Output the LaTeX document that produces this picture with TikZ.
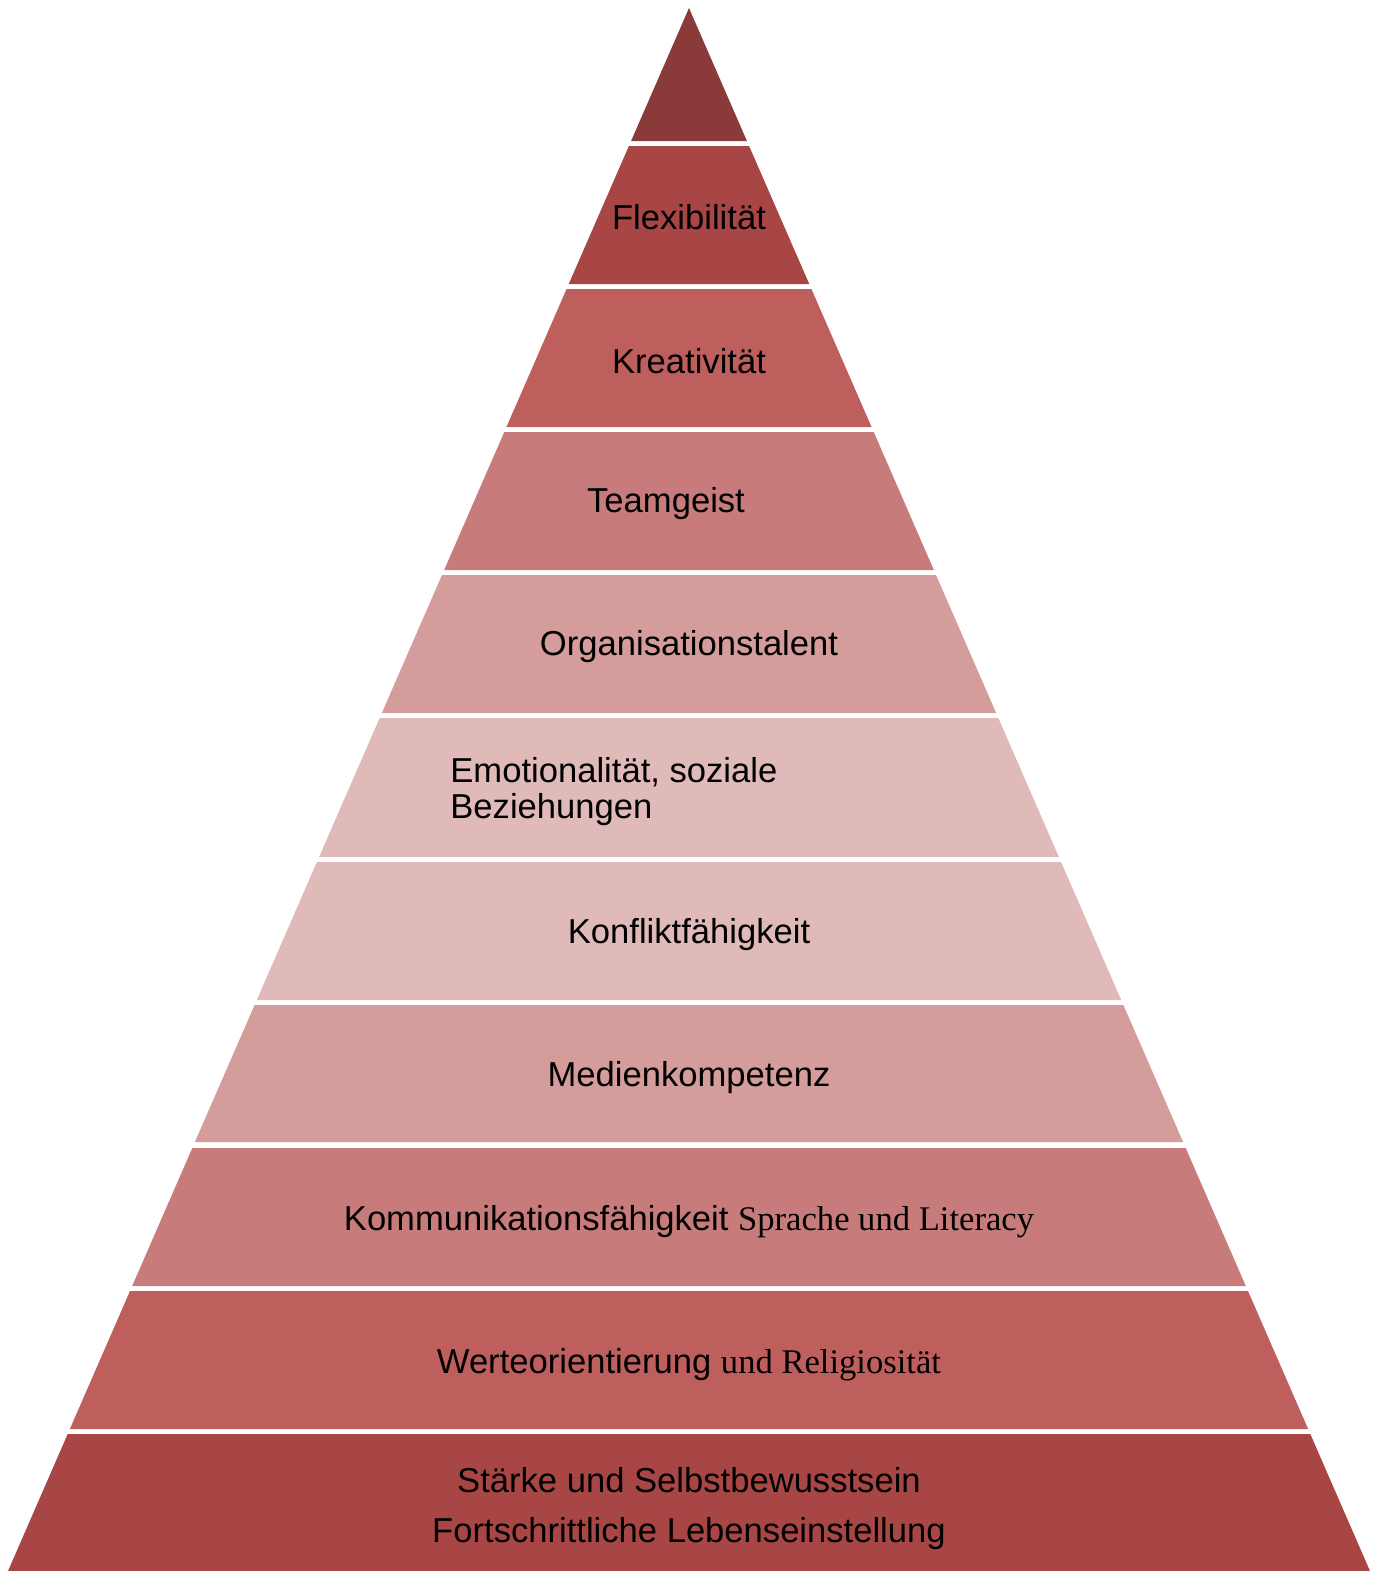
\documentclass[tikz,border=0pt]{standalone}
\usepackage{fontspec}
\setmainfont{Liberation Sans}
\newfontfamily\timesfont{Liberation Serif}
\definecolor{layerA}{RGB}{139,58,58}
\definecolor{layerB}{RGB}{168,70,70}
\definecolor{layerC}{RGB}{190,95,94}
\definecolor{layerD}{RGB}{199,124,123}
\definecolor{layerE}{RGB}{212,156,154}
\definecolor{layerF}{RGB}{223,186,185}
\tikzset{label/.style={font=\fontsize{17.3}{18}\selectfont,inner sep=0pt,align=center}}
\begin{document}
\begin{tikzpicture}[x=0.5pt,y=-0.5pt]
\useasboundingbox (0,0) rectangle (1379,1571);
\fill [layerA] (689,8)-- (746.95,141)-- (631.05,141)-- cycle;
\fill [layerB] (628.87,146)-- (749.13,146)-- (809.25,284)-- (568.75,284)-- cycle;
\fill [layerC] (566.57,289)-- (811.43,289)-- (871.56,427)-- (506.44,427)-- cycle;
\fill [layerD] (504.26,432)-- (873.74,432)-- (933.86,570)-- (444.14,570)-- cycle;
\fill [layerE] (441.96,575)-- (936.04,575)-- (996.17,713)-- (381.83,713)-- cycle;
\fill [layerF] (379.65,718)-- (998.35,718)-- (1058.91,857)-- (319.09,857)-- cycle;
\fill [layerF] (316.91,862)-- (1061.09,862)-- (1121.21,1000)-- (256.79,1000)-- cycle;
\fill [layerE] (254.61,1005)-- (1123.39,1005)-- (1183.08,1142)-- (194.92,1142)-- cycle;
\fill [layerD] (192.30,1148)-- (1185.70,1148)-- (1245.82,1286)-- (132.18,1286)-- cycle;
\fill [layerC] (130.00,1291)-- (1248.00,1291)-- (1308.13,1429)-- (69.87,1429)-- cycle;
\fill [layerB] (67.69,1434)-- (1310.31,1434)-- (1370,1571)-- (8,1571)-- cycle;
\node [label] (flex) at (689,217) {Flexibilität};
\node [label] (krea) at (689,361) {Kreativität};
\node [label] (team) at (666,504) {Teamgeist};
\node [label] (orga) at (689,647) {Organisationstalent};
\node [label,align=left,anchor=west] (emo) at (450,792) {Emotionalität, soziale\\Beziehungen};
\node [label] (konf) at (689,935) {Konfliktfähigkeit};
\node [label] (medi) at (689,1078) {Medienkompetenz};
\node [label] (komm) at (689,1222) {Kommunikationsfähigkeit {\timesfont Sprache und Literacy}};
\node [label] (wert) at (689,1365) {Werteorientierung {\timesfont und Religiosität}};
\node [label,font=\fontsize{17.3}{25}\selectfont] (staerke) at (689,1509) {Stärke und Selbstbewusstsein\\Fortschrittliche Lebenseinstellung};
\end{tikzpicture}
\end{document}
